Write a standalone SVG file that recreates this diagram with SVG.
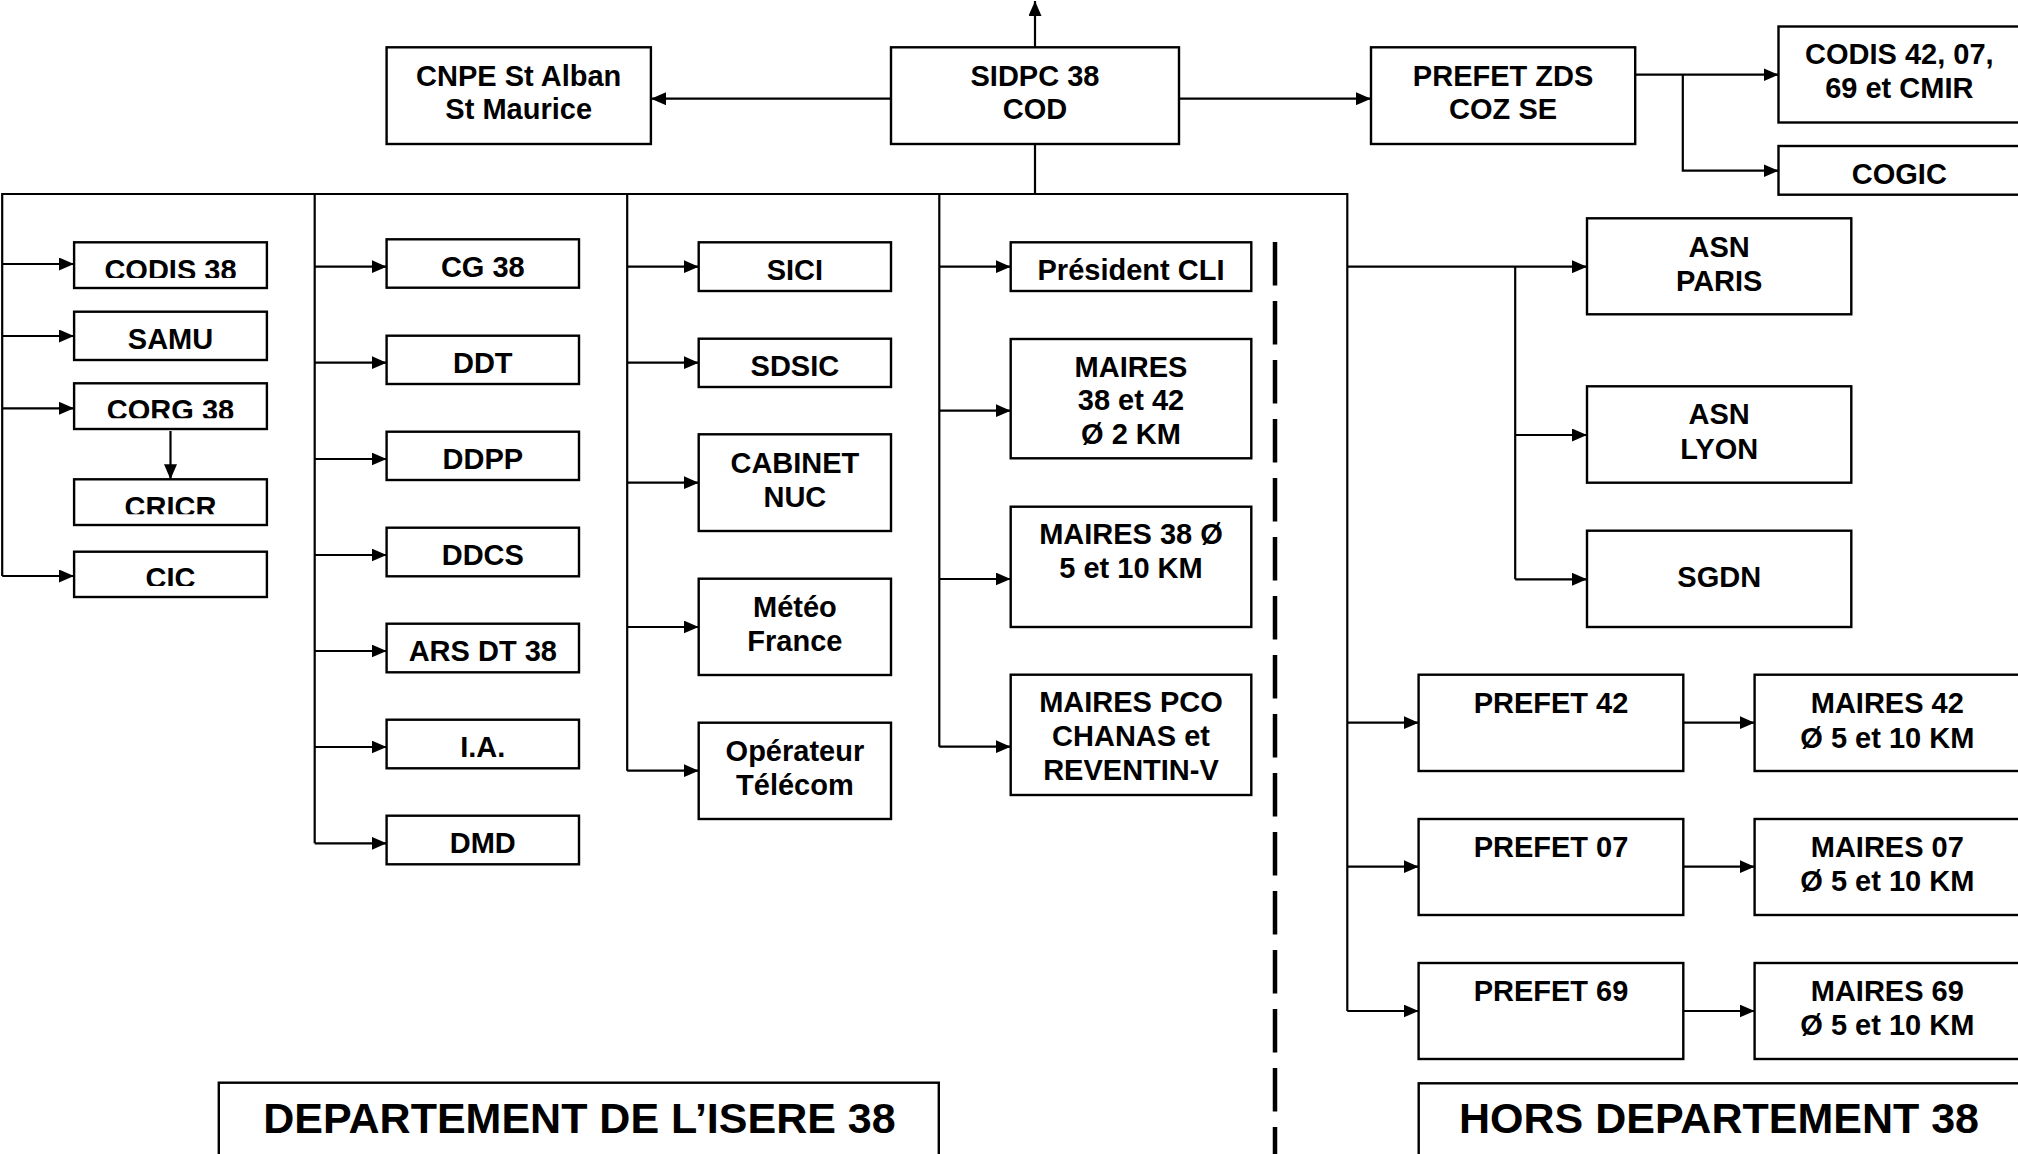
<svg xmlns="http://www.w3.org/2000/svg" width="2018" height="1154" viewBox="0 0 2018 1154">
<style>
.box{fill:#fff;stroke:#000;stroke-width:2.4}
.t{font-family:"Liberation Sans",Arial,sans-serif;font-weight:bold;font-size:29px;fill:#000;text-anchor:middle}
.big{font-size:43px}
.c{fill:none;stroke:#000;stroke-width:2.2}
.a{fill:none;stroke:#000;stroke-width:2.2;marker-end:url(#arr)}
.dash{fill:none;stroke:#000;stroke-width:4.5;stroke-dasharray:43.5 15.5}
</style>
<defs>
<marker id="arr" markerUnits="userSpaceOnUse" markerWidth="15" markerHeight="13" viewBox="0 0 15 13" refX="15" refY="6.5" orient="auto">
<path d="M0,0 L15,6.5 L0,13 Z" fill="#000"/>
</marker>
<clipPath id="clCodis"><rect x="74" y="242" width="193" height="36"/></clipPath>
<clipPath id="clCorg"><rect x="74" y="383" width="193" height="35.3"/></clipPath>
<clipPath id="clCricr"><rect x="74" y="479" width="193" height="35.3"/></clipPath>
<clipPath id="clCic"><rect x="74" y="551" width="193" height="35"/></clipPath>
</defs>

<g id="connectors">
<path class="a" d="M1035,47.3 V1"/>
<path class="a" d="M891,98.7 H651"/>
<path class="a" d="M1179,98.7 H1371"/>
<path class="a" d="M1635.2,74.7 H1778.5"/>
<path class="a" d="M1682.8,74.7 V170.7 H1778.5"/>
<path class="c" d="M1035,144 V194"/>
<path class="c" d="M2.2,576 V194 H1347.3 V1011"/>
<path class="a" d="M2.2,264 H74"/>
<path class="a" d="M2.2,336 H74"/>
<path class="a" d="M2.2,408.3 H74"/>
<path class="a" d="M2.2,576 H74"/>
<path class="a" d="M170.5,431 V479.3"/>
<path class="c" d="M314.7,194 V843.3"/>
<path class="a" d="M314.7,266.7 H386.6"/>
<path class="a" d="M314.7,362.7 H386.6"/>
<path class="a" d="M314.7,459 H386.6"/>
<path class="a" d="M314.7,555 H386.6"/>
<path class="a" d="M314.7,651 H386.6"/>
<path class="a" d="M314.7,747 H386.6"/>
<path class="a" d="M314.7,843.3 H386.6"/>
<path class="c" d="M627.2,194 V770.7"/>
<path class="a" d="M627.2,266.7 H698.7"/>
<path class="a" d="M627.2,362.7 H698.7"/>
<path class="a" d="M627.2,482.7 H698.7"/>
<path class="a" d="M627.2,627 H698.7"/>
<path class="a" d="M627.2,770.7 H698.7"/>
<path class="c" d="M939.3,194 V746.7"/>
<path class="a" d="M939.3,266.7 H1010.7"/>
<path class="a" d="M939.3,410.7 H1010.7"/>
<path class="a" d="M939.3,579 H1010.7"/>
<path class="a" d="M939.3,746.7 H1010.7"/>
<path class="a" d="M1347.3,266.7 H1587"/>
<path class="c" d="M1515.2,266.7 V579.3"/>
<path class="a" d="M1515.2,435 H1587"/>
<path class="a" d="M1515.2,579.3 H1587"/>
<path class="a" d="M1347.3,722.7 H1418.6"/>
<path class="a" d="M1347.3,866.7 H1418.6"/>
<path class="a" d="M1347.3,1011 H1418.6"/>
<path class="a" d="M1683.3,722.7 H1754.6"/>
<path class="a" d="M1683.3,866.7 H1754.6"/>
<path class="a" d="M1683.3,1011 H1754.6"/>
<path class="dash" d="M1275,242 V1154"/>
</g>

<g id="cnpe"><rect class="box" x="386.6" y="47.3" width="264.3" height="96.7"/><text class="t" x="518.7" y="86">CNPE St Alban</text><text class="t" x="518.7" y="119.3">St Maurice</text></g>
<g id="sidpc"><rect class="box" x="891" y="47.3" width="288" height="96.7"/><text class="t" x="1035" y="86">SIDPC 38</text><text class="t" x="1035" y="119.3">COD</text></g>
<g id="prefet-zds"><rect class="box" x="1371" y="47.3" width="264.2" height="96.7"/><text class="t" x="1503.1" y="86">PREFET ZDS</text><text class="t" x="1503.1" y="119.3">COZ SE</text></g>
<g id="codis42"><rect class="box" x="1778.5" y="26.5" width="245" height="96"/><text class="t" x="1899.3" y="63.5">CODIS 42, 07,</text><text class="t" x="1899.3" y="97.5">69 et CMIR</text></g>
<g id="cogic"><rect class="box" x="1778.5" y="146" width="245" height="48.7"/><text class="t" x="1899.3" y="183.5">COGIC</text></g>

<g id="codis38"><rect class="box" x="74.1" y="242.3" width="192.8" height="45.7"/><text class="t" x="170.5" y="280.3" clip-path="url(#clCodis)">CODIS 38</text></g>
<g id="samu"><rect class="box" x="74.1" y="311.7" width="192.8" height="48.3"/><text class="t" x="170.5" y="349.3">SAMU</text></g>
<g id="corg38"><rect class="box" x="74.1" y="383.3" width="192.8" height="45.7"/><text class="t" x="170.5" y="420" clip-path="url(#clCorg)">CORG 38</text></g>
<g id="cricr"><rect class="box" x="74.1" y="479.3" width="192.8" height="45.7"/><text class="t" x="170.5" y="516.6" clip-path="url(#clCricr)">CRICR</text></g>
<g id="cic"><rect class="box" x="74.1" y="551.7" width="192.8" height="45.3"/><text class="t" x="170.5" y="588.3" clip-path="url(#clCic)">CIC</text></g>

<g id="cg38"><rect class="box" x="386.6" y="239.3" width="192.4" height="48.4"/><text class="t" x="482.8" y="276.8">CG 38</text></g>
<g id="ddt"><rect class="box" x="386.6" y="335.7" width="192.4" height="48.3"/><text class="t" x="482.8" y="373.2">DDT</text></g>
<g id="ddpp"><rect class="box" x="386.6" y="431.7" width="192.4" height="48.3"/><text class="t" x="482.8" y="469.2">DDPP</text></g>
<g id="ddcs"><rect class="box" x="386.6" y="527.7" width="192.4" height="48.6"/><text class="t" x="482.8" y="565.2">DDCS</text></g>
<g id="ars"><rect class="box" x="386.6" y="623.7" width="192.4" height="48.6"/><text class="t" x="482.8" y="661.2">ARS DT 38</text></g>
<g id="ia"><rect class="box" x="386.6" y="719.7" width="192.4" height="48.6"/><text class="t" x="482.8" y="757.2">I.A.</text></g>
<g id="dmd"><rect class="box" x="386.6" y="815.7" width="192.4" height="48.6"/><text class="t" x="482.8" y="853.2">DMD</text></g>

<g id="sici"><rect class="box" x="698.7" y="242.3" width="192.3" height="48.7"/><text class="t" x="794.9" y="279.8">SICI</text></g>
<g id="sdsic"><rect class="box" x="698.7" y="338.7" width="192.3" height="48.3"/><text class="t" x="794.9" y="376.2">SDSIC</text></g>
<g id="cabinet"><rect class="box" x="698.7" y="434.3" width="192.3" height="96.7"/><text class="t" x="794.9" y="472.7">CABINET</text><text class="t" x="794.9" y="506.7">NUC</text></g>
<g id="meteo"><rect class="box" x="698.7" y="578.7" width="192.3" height="96.3"/><text class="t" x="794.9" y="616.7">Météo</text><text class="t" x="794.9" y="650.7">France</text></g>
<g id="operateur"><rect class="box" x="698.7" y="722.7" width="192.3" height="96.3"/><text class="t" x="794.9" y="761">Opérateur</text><text class="t" x="794.9" y="795">Télécom</text></g>

<g id="president-cli"><rect class="box" x="1010.7" y="242.3" width="240.6" height="48.7"/><text class="t" x="1131" y="279.8">Président CLI</text></g>
<g id="maires-38-42"><rect class="box" x="1010.7" y="339" width="240.6" height="119.3"/><text class="t" x="1131" y="376.5">MAIRES</text><text class="t" x="1131" y="410">38 et 42</text><text class="t" x="1131" y="443.5">Ø 2 KM</text></g>
<g id="maires-38"><rect class="box" x="1010.7" y="506.7" width="240.6" height="120.3"/><text class="t" x="1131" y="544.3">MAIRES 38 Ø</text><text class="t" x="1131" y="578.3">5 et 10 KM</text></g>
<g id="maires-pco"><rect class="box" x="1010.7" y="674.7" width="240.6" height="120.3"/><text class="t" x="1131" y="712.3">MAIRES PCO</text><text class="t" x="1131" y="746.3">CHANAS et</text><text class="t" x="1131" y="780.3">REVENTIN-V</text></g>

<g id="asn-paris"><rect class="box" x="1587" y="218.3" width="264.3" height="96"/><text class="t" x="1719.2" y="256.7">ASN</text><text class="t" x="1719.2" y="291">PARIS</text></g>
<g id="asn-lyon"><rect class="box" x="1587" y="386.3" width="264.3" height="96.4"/><text class="t" x="1719.2" y="424.3">ASN</text><text class="t" x="1719.2" y="458.6">LYON</text></g>
<g id="sgdn"><rect class="box" x="1587" y="530.7" width="264.3" height="96.3"/><text class="t" x="1719.2" y="587.3">SGDN</text></g>

<g id="prefet42"><rect class="box" x="1418.6" y="674.7" width="264.7" height="96.3"/><text class="t" x="1551" y="713.3">PREFET 42</text></g>
<g id="prefet07"><rect class="box" x="1418.6" y="819" width="264.7" height="96"/><text class="t" x="1551" y="857.4">PREFET 07</text></g>
<g id="prefet69"><rect class="box" x="1418.6" y="963" width="264.7" height="96"/><text class="t" x="1551" y="1001.3">PREFET 69</text></g>
<g id="maires42"><rect class="box" x="1754.6" y="674.7" width="270" height="96.3"/><text class="t" x="1887.3" y="713.3">MAIRES 42</text><text class="t" x="1887.3" y="747.5">Ø 5 et 10 KM</text></g>
<g id="maires07"><rect class="box" x="1754.6" y="819" width="270" height="96"/><text class="t" x="1887.3" y="857.4">MAIRES 07</text><text class="t" x="1887.3" y="891">Ø 5 et 10 KM</text></g>
<g id="maires69"><rect class="box" x="1754.6" y="963" width="270" height="96"/><text class="t" x="1887.3" y="1001.3">MAIRES 69</text><text class="t" x="1887.3" y="1035">Ø 5 et 10 KM</text></g>

<g id="dept-isere"><rect class="box" x="218.8" y="1082.7" width="720" height="100"/><text class="t big" x="579.5" y="1133">DEPARTEMENT DE L’ISERE 38</text></g>
<g id="hors-dept"><rect class="box" x="1418.7" y="1083.3" width="610" height="100"/><text class="t big" x="1719" y="1133">HORS DEPARTEMENT 38</text></g>
</svg>
